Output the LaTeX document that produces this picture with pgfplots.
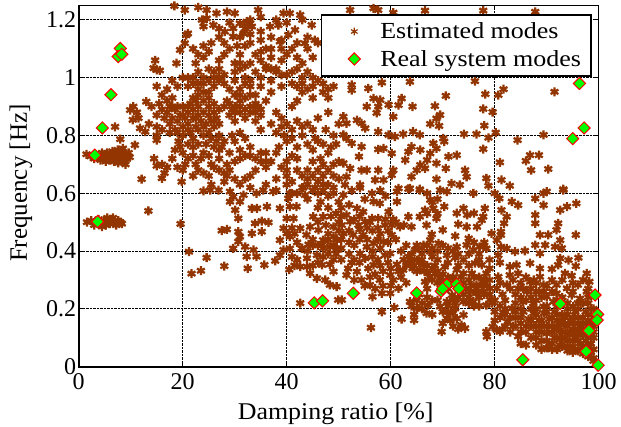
\documentclass[border=0pt]{standalone}
\usepackage{fontspec}
\setmainfont{Liberation Serif}
\newfontfamily\lgfont[FakeStretch=1.13]{Liberation Serif}
\newfontfamily\xlfont[FakeStretch=1.08]{Liberation Serif}
\usepackage{pgfplots}
\pgfplotsset{compat=1.18}
\definecolor{est}{HTML}{933500}
\begin{document}
\begin{tikzpicture}
\path[use as bounding box] (-78.7pt,-59.3pt) rectangle (542.3pt,366.7pt);
\begin{axis}[
  scale only axis, width=520pt, height=361pt,
  xmin=0, xmax=100, ymin=0, ymax=1.249,
  clip=false,
  xtick={0,20,40,60,80,100},
  ytick={0,0.2,0.4,0.6,0.8,1,1.2},
  yticklabels={0,0.2,0.4,0.6,0.8,1,1.2},
  /pgf/number format/assume math mode=true,
  tick label style={font=\fontsize{24}{26}\selectfont},
  xticklabel style={yshift=-3pt},
  yticklabel style={xshift=1pt},
  xlabel={Damping ratio [\%]}, ylabel={Frequency [Hz]},
  xlabel style={font=\fontsize{24}{26}\xlfont, yshift=-7pt, xshift=-3pt},
  ylabel style={font=\fontsize{25}{27}\selectfont, yshift=7pt, xshift=3pt},
  grid=major, grid style={densely dotted, black, line width=0.9pt},
  tick align=inside, major tick length=4pt,
  tick style={black, line width=0.8pt},
  axis line style={black, line width=0.9pt},
  legend style={at={(0.465,0.977)}, anchor=north west, draw=black, line width=1.6pt,
    font=\fontsize{23}{26}\lgfont, inner xsep=8pt, inner ysep=6pt, row sep=6pt},
  legend cell align=left,
  legend image code/.code={\path[draw=none,fill=none] (0pt,0pt) -- (49pt,0pt); \path[#1,draw=none] plot[only marks] coordinates {(25pt,0pt)};},
]
\addplot[only marks, mark=asterisk, mark size=4.5pt, color=est, mark options={line width=2.3pt}, legend image post style={mark size=3.8pt, mark options={draw=est, line width=1.2pt}}] coordinates {
(1.5,.735)(2.3,.728)(3,.72)(3.8,.725)(4.2,.715)(4.8,.725)(5.2,.71)(5.6,.725)(6,.715)(6.4,.73)(6.8,.71)(7.2,.725)(7.6,.705)(7.8,.735)(8,.72)(8.3,.745)(8.6,.71)(8.9,.735)(9.3,.72)(9.6,.74)(9.8,.725)(8.5,.755)(7.5,.75)(6.5,.745)(5.5,.74)(4.5,.74)(9,.70)
(1.6,.5)(2.4,.505)(3,.49)(3.8,.51)(4.4,.495)(4.8,.505)(5.2,.49)(5.6,.505)(6,.495)(6.4,.51)(6.8,.5)(7.2,.49)(7.6,.505)(8,.5)(8.3,.495)(5.5,.515)(6.6,.515)(4.5,.485)
(13.4,.539)(19.6,.494)(21.2,.398)(24.6,.377)(21.7,.322)(23.5,.332)(28,.348)(32.5,.34)(35.7,.352)(40.5,.336)(42.6,.22)
(24,.608)(25.3,.611)(26.9,.611)(29.1,.606)(29.7,.588)(31.7,.594)(31,.571)(29.1,.571)(30.1,.542)(30.7,.513)(33.3,.548)(34.3,.548)(36.2,.554)(37.4,.606)(35.5,.611)(34.2,.6)(38.7,.548)(40.6,.554)(41.9,.554)(43.5,.594)(43.2,.62)(45.5,.62)(40.6,.6)(40.3,.582)
(27.5,.471)(28.5,.475)(30.7,.467)(31,.45)(30.7,.433)(33.3,.461)(35.2,.467)(33.9,.496)(35.2,.504)(36.5,.499)
(29.7,.409)(32,.415)(33.6,.404)(32.3,.381)(34.2,.381)(37.8,.366)(38.7,.386)(39.4,.404)(40.6,.409)(42.9,.409)(44.2,.423)(42.6,.346)(43.9,.346)(43.9,.375)(45.8,.386)(46.8,.352)(48.3,.354)(49,.329)(48.3,.415)(46.8,.421)(49.6,.409)(39.4,.479)(40,.461)(40.6,.45)(38.7,.438)(40,.513)(41.3,.513)(42.6,.479)(43.8,.456)(45.1,.519)(47,.519)(44.5,.484)(46.1,.473)(47,.438)(49,.484)(49.6,.438)(44.5,.323)(45.8,.306)(47.4,.3)(48.3,.283)(49.6,.277)(49.9,.231)
(16.5,.86)(17,.88)(17.5,.84)(18,.86)(18.5,.89)(19,.85)(19.5,.87)(20,.83)(20,.9)(20.5,.86)(21,.88)(21,.84)(21.5,.91)(22,.86)(22,.89)(22.5,.83)(22.5,.92)(23,.87)(23,.9)(23.5,.85)(24,.88)(24,.92)(24.5,.84)(25,.87)(25,.9)(25.5,.85)(26,.88)(26,.83)(26.5,.86)(27,.84)(27,.8)(25,.81)(24,.8)(23,.82)(21.5,.81)(20,.8)(18.5,.82)(17.5,.81)(16,.82)(15,.8)(15,.83)(13.5,.84)(15,.87)(14,.9)(15.5,.91)(17,.92)(18,.93)(16,.89)
(19.2,.78)(18.5,.75)(20,.74)(18,.72)(21,.72)(19,.69)(20.5,.7)(22,.76)(22.5,.7)(23,.68)(24,.67)(25,.66)(26,.69)(25.5,.63)(22,.66)(17,.69)(16,.7)(15,.695)(14.5,.72)(16.5,.67)(24,.74)(26,.76)(27,.75)(28,.78)(27,.72)(28.5,.7)(29,.74)(30,.78)(29.5,.8)(31,.81)(32,.79)(33,.76)(34,.72)(35,.71)(36,.74)(34,.68)(36,.69)(37,.71)(33,.66)(32,.65)(33,.62)(30,.65)(28,.64)(31,.63)(28.5,.66)(36,.63)(38,.65)(38,.61)(40,.63)(40,.66)(41,.64)(41,.6)(43,.62)(44,.65)(46,.64)(47,.66)(48,.63)(49,.66)(44,.68)(45,.71)(46.5,.72)(48,.74)(50,.71)(38,.74)(40,.78)(38.5,.76)(41,.79)(43,.8)(44,.77)(46,.78)(47.5,.82)(49,.8)(44,.84)(46,.86)(48,.88)(50,.84)(29,.87)(30,.9)(31,.88)(32,.86)(30,.85)(33,.88)(34,.9)(35,.87)(34,.85)(35,.82)(37,.84)(38,.88)(39,.86)(40,.84)(39,.83)(30,.94)(31,.96)(33,.97)(34,.94)(36,.92)(37,.95)(39,.97)(35,1)(37,.99)(22,1)(21,.97)(23,.96)(24,.98)(25,.95)(26,.97)(27,.99)(23,1.02)(20,1)(16,.94)(15,.97)(17,.96)(18,.99)(19,.97)(42,.97)(43,.95)(44,.96)(45,.93)(47,.95)(48,.93)(49,.97)(42,.92)(41,.9)
(26,1.02)(28,1.01)(30,1.02)(32,1)(34,1.02)(36,1.03)(38,1.02)(40,1.01)(42,1.03)(44,1.02)(24,1.0)
(22,1.1)(23,1.08)(24,1.07)(22.5,1.05)(24,1.11)(25,1.09)(27,1.06)(28,1.08)(29,1.1)(28,1.12)(30,1.05)(31,1.08)(32,1.11)(33,1.05)(34,1.08)(33,1.12)(35,1.13)(36,1.1)(37,1.07)(38,1.03)(39,1.06)(40,1.08)(41,1.1)(42,1.07)(43,1.05)(44,1.1)(45,1.07)(46,1.12)(35,1.06)(36,1.04)(25.5,1.12)(27,1.14)(31,1.14)(33,1.15)(35,1.16)(37,1.14)(39,1.13)
(18.4,1.248)(20.4,1.234)(23,1.243)(14.7,1.06)(18.8,1.05)(15,1.027)(14.4,1.033)(15.6,1.025)(19.5,1.096)(20.4,1.119)(21,1.153)(20.7,1.147)
(9.9,.888)(10.5,.9)(13,.917)(11.2,.88)(11.5,.86)(10.4,.854)(7,.83)(8,.787)(10.8,.767)(12.1,.649)(16,.652)(19.8,.64)(11.8,.825)(12.8,.813)(15,.784)
(24.6,1.234)(26.5,1.223)(28.5,1.228)(30,1.223)(34.5,1.234)(39.4,1.223)(40.6,1.223)(42.6,1.217)(23.7,1.2)(24.6,1.205)(25.9,1.182)(24,1.177)(28.1,1.159)(29.7,1.171)(31,1.188)(32.3,1.194)(33.3,1.177)(31.7,1.153)(29.7,1.142)(36.8,1.177)(38.4,1.182)(41.6,1.165)(44.8,1.182)(40.3,1.148)(38.7,1.125)(43.5,1.119)(45.4,1.13)
(56.7,1.24)(60.5,1.225)(66.6,1.232)(77.8,1.232)(87.8,1.228)(52.2,1.234)(57.6,1.234)
(52.5,.975)(52.5,.957)(55.7,.963)(58.3,.983)(63.7,.986)(76.2,.988)(70.6,.937)(78.2,.943)(81.7,.96)(80.7,.94)(91.5,.951)
(56.7,.928)(58,.923)(62.1,.928)(61.5,.905)(57.6,.9)(55.4,.9)(59.6,.906)(64.2,.9)(68.5,.902)(77.8,.892)(79.6,.881)(57.3,.878)(60.5,.865)(69.5,.871)(68.8,.859)
(50.9,.865)(53.5,.853)(51.5,.842)(54.4,.842)(55.1,.825)(67.6,.84)(69.3,.833)(78,.834)
(57.6,.813)(59.6,.802)(60.8,.796)(62.4,.805)(64.3,.813)(65.6,.802)(70.1,.79)(70.3,.779)(74.1,.805)(76.5,.805)(78.8,.792)(80.2,.81)(84.4,.784)(89.4,.802)(50.9,.802)(51.5,.79)
(52.5,.773)(54.4,.761)(53.9,.727)(57.6,.752)(58.6,.755)(60.2,.738)(64,.761)(65.7,.75)(63.4,.744)(62.8,.715)(68.2,.773)(67.6,.738)(68.8,.755)(71.1,.727)(72.7,.732)(77.8,.753)(81,.707)(86.8,.732)(88.5,.732)(86,.712)(87,.68)(90.3,.684)
(50.9,.704)(52.2,.686)(54.4,.68)(55.4,.68)(57.6,.68)(60.5,.68)(60.2,.663)(65.7,.698)(67,.715)(66.6,.686)(65,.68)(64,.657)(68.8,.704)(70.6,.686)(74.3,.68)(74.6,.657)(68.8,.649)(78.4,.652)(81.3,.646)(82.9,.626)(57,.646)(58.6,.646)(51.5,.657)(54.1,.629)(51.2,.629)(63.7,.617)(71.7,.634)(73.3,.629)(78.8,.626)(93.2,.614)(65.6,.614)(61.5,.617)
(50.9,.594)(54.1,.619)(56.4,.6)(56.7,.571)(57.9,.565)(59.6,.536)(61.2,.606)(61.2,.571)(63.4,.615)(65.6,.611)(67.6,.577)(69.5,.611)(70.8,.606)(68.2,.548)(70.3,.554)(66.6,.542)(65.6,.519)(63.4,.519)(64,.484)(68.8,.513)(66.9,.49)(74,.548)(72.7,.531)(74.7,.525)(76,.531)(78.1,.548)(77.8,.519)(73,.493)(74.6,.484)(76.6,.484)(77.5,.507)(75.9,.6)(80,.6)(80.9,.582)(83.3,.571)(84.5,.559)(81.3,.542)(82.3,.519)(87.8,.582)(89.4,.6)(89.4,.559)(90,.606)(93.2,.611)(92.6,.542)(93.9,.554)(95.7,.565)(87.8,.525)(87.8,.496)(92.2,.496)(91.9,.473)(90.3,.456)(88.7,.456)(95.6,.456)(87.8,.421)(89.7,.421)(88.7,.392)(92.6,.438)(92.9,.41)(91.6,.415)(85.8,.401)(83.9,.398)(82.3,.409)(80.7,.386)(81.8,.496)(81.2,.467)(80.4,.438)(81.2,.415)(96.1,.377)(92.6,.375)(94.2,.369)(92.2,.352)(95.6,.348)(91,.338)(97.7,.323)(93.5,.323)(94.8,.315)
(72.4,.452)(67.9,.458)(75,.444)(74.6,.421)(72.7,.415)(77.1,.415)(78.4,.409)(75.9,.404)(79.4,.461)(81.2,.456)(67.6,.438)(66.3,.421)(64.7,.404)(69.2,.427)(70,.473)(70.8,.386)(72.4,.377)(67.6,.398)
(51.5,.525)(53.5,.548)(54.7,.536)(52.2,.502)(53.8,.49)(55.1,.502)(56.4,.513)(57.6,.513)(58.9,.49)(60.2,.49)(61.8,.484)(50.6,.49)(50.9,.461)(52.8,.456)(54.7,.456)(56.7,.427)(55.4,.415)(58.6,.433)(60.2,.456)(59.9,.392)(58.9,.386)(54.1,.392)(55.1,.375)(56.7,.352)(55.7,.34)(51.8,.34)(51.5,.317)(53.5,.329)(54.4,.3)(56,.283)(57.9,.3)(59.9,.317)(61.2,.354)(62.4,.335)(63.7,.358)(65,.369)(66.3,.352)(63.4,.381)(64.2,.34)(65.7,.335)(67.2,.323)(68.5,.323)(66.6,.294)(69.5,.306)(70.4,.346)(72.7,.335)(74,.323)(75.6,.323)(77.5,.352)(76.2,.358)(78.4,.323)(76.5,.283)(77.8,.294)(77.8,.26)(75.3,.26)(76.5,.254)(79.1,.231)(78.4,.213)(75,.219)(75.9,.225)(74,.225)(79.1,.271)(80.7,.311)(82.9,.346)(84.2,.352)(86.8,.358)(88.7,.34)(82.9,.317)(84.5,.323)(86.8,.294)(88.7,.311)(89.4,.283)(82.3,.283)(80.4,.271)(84.5,.271)(86.2,.26)(88,.26)(90,.242)(91.9,.283)(93.9,.271)(91.9,.254)(96,.283)(98.2,.294)(97.7,.26)(96.4,.236)(94.8,.248)(95.1,.208)(91.3,.225)(89.4,.208)(87.4,.219)(85.5,.225)(83.3,.202)(81.7,.185)
(61.5,.271)(59.9,.254)(58.3,.254)(56.5,.242)(50.6,.231)(58.3,.19)(60.7,.205)(62.1,.165)(64.5,.161)(56.2,.135)
(63.7,.225)(65,.202)(67.2,.213)(66.9,.185)(69.5,.208)(70.8,.225)(71.8,.248)(70.8,.167)(72.7,.167)(74,.179)(74.3,.133)(73.6,.144)(69.8,.121)(72.4,.202)(72,.185)(78.4,.121)(80.4,.127)(81,.121)(79.6,.138)(78.5,.104)
(82,.18)(82.5,.155)(83.5,.14)(84,.17)(85,.15)(85.5,.19)(86,.12)(86.5,.165)(87,.1)(87,.14)(87.5,.185)(88,.12)(88.5,.16)(89,.09)(89,.14)(89.5,.185)(90,.115)(90.5,.165)(90.5,.08)(91,.14)(91.5,.1)(91.5,.19)(92,.16)(92.5,.075)(92.5,.125)(93,.095)(93,.18)(93.5,.145)(94,.07)(94,.115)(94.5,.16)(95,.09)(95,.13)(95.5,.06)(95.5,.19)(96,.11)(96,.15)(96.5,.08)(97,.13)(97,.17)(97.5,.09)(98,.07)(98,.16)(98.5,.1)(98.5,.2)(99,.06)(99,.14)(84.5,.105)(86,.075)(88,.075)(90,.065)(85,.08)(89,.06)(91,.06)
(50.5,.52)(52,.47)(53,.51)(54,.52)(54,.475)(55.5,.48)(56,.5)(56.5,.47)(57.5,.48)(58,.46)(59,.51)(59.5,.47)(60.5,.51)(61,.5)(62.5,.49)(50.5,.44)(52,.43)(53,.42)(54,.44)(55.5,.44)(57.5,.44)(58,.41)(59.5,.43)(61,.44)(50.5,.41)(52,.39)(53,.37)(56.5,.4)(57.5,.37)(58,.35)(59.5,.36)(56.5,.38)(54,.36)(52.5,.36)(50.5,.37)
(61.5,.33)(62.5,.37)(63,.35)(64,.37)(64.5,.35)(65,.33)(65.5,.36)(66,.37)(66.5,.33)(67,.35)(67.5,.31)(68,.34)(68,.3)(68.5,.35)(69,.29)(69,.33)(70,.32)(70,.29)(71,.31)(71,.27)(72,.31)(71.5,.29)(72.5,.3)(73,.27)(73.5,.31)(74,.29)(74.5,.27)(75,.3)(75.5,.28)(76,.31)(76.5,.27)(77,.31)(77.5,.28)(78,.3)(78.5,.28)(79,.3)(78,.25)(79,.25)(79.5,.22)(77,.24)(76,.21)(77,.21)(75,.24)(74,.25)(73,.24)(72.5,.22)(72,.23)(71,.21)(71,.19)(70,.19)(69,.23)(68,.23)(67,.24)(66,.22)(65,.23)(64,.21)(64.5,.18)(66,.2)(68,.18)(70,.15)(71.5,.16)(72,.14)(73,.13)(65.5,.25)(67,.27)(63,.29)(62,.31)(60.5,.3)(60,.28)(58.5,.28)(57,.27)(56,.31)(55,.28)(53,.3)(57,.32)(58.5,.33)(60,.34)
(81,.29)(81.5,.25)(82,.23)(83,.27)(83.5,.3)(84,.25)(84,.22)(85,.29)(85,.24)(85.5,.27)(86,.31)(86,.23)(87,.27)(87,.24)(87.5,.3)(88,.29)(88,.23)(88.5,.26)(89,.24)(89.5,.26)(90,.28)(90,.21)(91,.26)(91,.3)(92,.23)(93,.24)(93,.3)(94,.22)(95,.26)(95,.29)(96,.2)(97,.22)(97,.3)(98,.24)(98,.27)(81,.21)(80,.23)(80,.19)(82,.2)(81,.17)(83,.17)(80,.16)
(81.5,.13)(83,.12)(82,.14)(84,.14)(85,.12)(86,.14)(85,.17)(87,.16)(88,.14)(88,.18)(88,.1)(89,.12)(89,.16)(90,.14)(90,.09)(91,.12)(91,.17)(91,.08)(92,.14)(92,.1)(92,.18)(93,.16)(93,.12)(93,.07)(94,.14)(94,.09)(94,.18)(95,.11)(95,.15)(95,.17)(95,.07)(96,.13)(96,.09)(96,.17)(96.5,.06)(97,.11)(97,.15)(97,.07)(97.5,.19)(98,.14)(98,.11)(98,.18)(98.5,.08)(98.5,.05)(99,.1)(99,.12)(99,.17)(99,.03)(99,.2)(98,.22)(90,.19)(87,.2)(85,.2)(92,.21)(94,.2)(96,.22)(84,.19)(88,.2)
(92,.06)(94,.055)(95,.05)(96,.055)(97,.045)(98,.035)(99,.02)(98.5,.12)(97.5,.12)(96.5,.12)(95.5,.12)(94.5,.12)(93.5,.1)(95.5,.1)(96.5,.14)(97.5,.15)(98.5,.15)(93.5,.17)(91.5,.13)(92.5,.15)
(62,.4)(63,.42)(64,.39)(65,.42)(66,.39)(66,.41)(67,.42)(68,.41)(68,.38)(69,.4)(69,.37)(70,.42)(71,.41)(72,.4)(71,.36)(73,.39)(74,.37)(75,.39)(76,.43)(77,.39)(78,.43)(73,.35)(75,.35)(77,.37)(79,.37)(79,.34)(81,.36)
(52,.56)(50.5,.55)(52.5,.61)(55,.58)(58,.61)(59,.59)(67,.6)(68,.57)(69,.58)(67,.53)(69,.53)
(41,.48)(41.5,.46)(42,.43)(43,.41)(44,.4)(45,.42)(45,.44)(46,.42)(47,.41)(48,.39)(49,.37)(49.5,.39)(47,.38)(46,.36)(45,.35)(48,.44)(48,.46)(49,.42)(46,.5)(47.5,.49)(48.5,.52)(50,.5)(50,.47)(49,.45)(41,.38)(42,.37)(41.5,.35)
(42,.6)(44,.58)(46,.6)(47,.61)(48,.59)(49,.6)(46.5,.57)(48,.55)(50,.57)(49.5,.53)(46,.55)
(20,.87)(21,.9)(22,.93)(23,.94)(24,.95)(25,.93)(26,.91)(27,.89)(19,.9)(18,.9)(17.5,.9)(26,.85)(24,.83)(22.5,.86)(21,.82)(19,.81)(22,.79)(23,.77)(24.5,.77)(25.5,.79)(26.5,.78)(27.5,.76)(21,.77)(19.5,.76)(20,.68)(22,.73)(23.5,.72)(25,.73)(25.5,.7)(27,.68)(28,.67)(29,.68)(30,.71)(31,.72)(32,.73)(31,.75)(33,.73)(35,.74)(36,.71)
(28,.9)(29,.91)(30,.88)(31,.92)(32,.89)(33,.9)(28.5,.92)(29.5,.89)(31,.9)(34,.88)(34.5,.9)(35,.89)(34,.91)(31,.94)(32,.93)(33,.94)
(21,1)(22,.98)(23,.98)(25,.99)(26,1)(27,1.0)(28,.98)(29,.96)(30,.99)(32,.98)(33,.99)(35,.97)(37,1.03)(39,1.01)(41,1.02)(43,1)(45,1)(41,.98)(43,.98)(45,.97)(46,.99)(47,.98)(48,.96)
(31,1.05)(32,1.04)(30.5,1.11)(35,1.09)(37,1.1)(39,1.1)(27,1.03)(31,1.03)(25,1.03)(42,1.12)(44,1.14)(27,1.17)(29,1.19)(32,1.17)(33,1.2)(35,1.21)(38,1.2)(40,1.19)(43,1.2)
(38,.81)(39.5,.8)(41,.82)(42,.85)(43,.83)(45,.82)(45.5,.79)(47,.77)(48.5,.76)(49.5,.77)(45,.75)(42,.76)(42,.72)(41,.73)(40,.71)(39,.69)(40,.68)(42,.68)(43,.66)(45,.66)(48,.68)(49,.7)(47,.7)(46,.68)(44,.63)(45,.61)(47,.63)(49,.62)(50,.65)
};
\addlegendentry{Estimated modes}
\addplot[only marks, mark=square*, mark size=4.3pt, mark options={rotate=45, draw=red, fill=green, line width=1pt}] coordinates {
(8,1.101)(7.6,1.073)(8.3,1.081)(6.2,.941)(4.55,.826)(3.1,.732)(3.65,.502)(45.3,.221)(46.9,.228)(96.3,.98)(97.2,.826)(95,.789)
(52.8,.254)(65,.255)(69.7,.261)(70.8,.283)(72.7,.285)(70,.27)(73.1,.27)(99.3,.248)(92.6,.218)(99.8,.181)(99.7,.161)(98.1,.125)(97.6,.053)(85.4,.024)(99.9,.005)
};
\addlegendentry{Real system modes}
\draw[black, line width=1.8pt] (axis cs:0,1.249) -- (axis cs:0,0) -- (axis cs:100,0);
\end{axis}
\end{tikzpicture}
\end{document}
